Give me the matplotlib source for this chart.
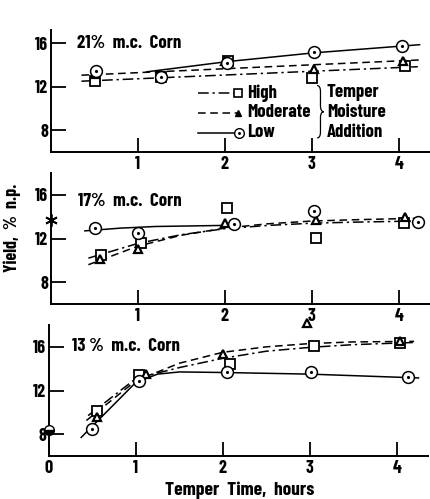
import numpy as np
import matplotlib
matplotlib.use("Agg")
import matplotlib.pyplot as plt
from matplotlib.path import Path
from matplotlib.patches import PathPatch

plt.rcParams['font.family'] = ['Barlow Condensed', 'DejaVu Sans']
plt.rcParams['font.stretch'] = 'condensed'
plt.rcParams['font.weight'] = 'bold'

# ---- 21% m.c. corn ----
h21_x = [0.51, 1.27, 2.04, 3.00, 4.07]
h21_y = [12.5, 12.85, 14.35, 12.8, 13.9]
m21_x = [0.51, 1.27, 2.00, 3.03, 4.05]
m21_y = [13.2, 13.05, 14.4, 13.65, 14.4]
l21_x = [0.52, 1.27, 2.02, 3.03, 4.04]
l21_y = [13.4, 12.9, 14.15, 15.15, 15.7]
h21_fit_x = [0.35, 4.22]
h21_fit_y = [12.5, 13.83]
m21_fit_x = [0.35, 4.24]
m21_fit_y = [13.05, 14.45]
l21_fit_x = [1.1, 2.03, 3.02, 4.24]
l21_fit_y = [13.36, 14.3, 15.1, 15.85]

# ---- 17% m.c. corn ----
h17_x = [0.58, 1.04, 2.03, 3.05, 4.06]
h17_y = [10.5, 11.55, 14.75, 12.05, 13.4]
m17_x = [0.56, 1.00, 2.00, 3.05, 4.07]
m17_y = [10.15, 11.0, 13.4, 13.7, 14.0]
l17_x = [0.51, 1.00, 2.10, 3.02, 4.22]
l17_y = [13.0, 12.5, 13.3, 14.5, 13.5]
h17_fit_x = [0.43, 1.0, 1.5, 2.0, 2.5, 3.0, 3.5, 4.2]
h17_fit_y = [10.2, 11.55, 12.35, 12.9, 13.2, 13.4, 13.5, 13.6]
m17_fit_x = [0.43, 1.0, 1.5, 2.0, 2.5, 3.0, 3.5, 4.2]
m17_fit_y = [9.6, 11.3, 12.3, 12.95, 13.35, 13.6, 13.72, 13.85]
l17_fit_x = [0.39, 0.8, 1.2, 1.6, 2.0]
l17_fit_y = [12.7, 12.95, 13.1, 13.15, 13.2]
untempered17 = (0.0, 13.7)

# ---- 13% m.c. corn ----
h13_x = [0.55, 1.03, 2.08, 3.05, 4.04]
h13_y = [10.1, 13.4, 14.4, 16.05, 16.35]
m13_x = [0.55, 1.12, 2.00, 2.97, 4.04]
m13_y = [9.55, 13.55, 15.3, 18.2, 16.5]
l13_x = [0.50, 1.03, 2.05, 3.01, 4.13]
l13_y = [8.45, 12.85, 13.65, 13.65, 13.2]
h13_fit_x = [0.45, 1.0, 1.5, 2.0, 2.5, 3.0, 3.5, 4.2]
h13_fit_y = [9.7, 13.1, 14.1, 14.95, 15.6, 15.95, 16.2, 16.4]
m13_fit_x = [0.43, 1.0, 1.5, 2.0, 2.5, 3.0, 3.5, 4.2]
m13_fit_y = [9.25, 12.9, 14.5, 15.5, 16.0, 16.3, 16.45, 16.5]
l13_fit_x = [0.37, 1.0, 1.25, 1.5, 2.0, 3.0, 4.25]
l13_fit_y = [7.7, 12.75, 13.5, 13.7, 13.65, 13.5, 13.15]
untempered13 = (0.0, 8.35)

legend_labels = ['High', 'Moderate', 'Low']
brace_labels = ['Temper', 'Moisture', 'Addition']

DASHED = (0, (5, 3))
DASHDOT = (0, (7, 2.5, 1.5, 2.5))
lw = 1.1
FS = 13
TFS = 13.5


def style_axes(ax, ytop, xticks):
    ax.set_xlim(0, 4.36)
    ax.set_ylim(6, ytop)
    for s in ('top', 'right'):
        ax.spines[s].set_visible(False)
    ax.spines['left'].set_linewidth(1.4)
    ax.spines['bottom'].set_linewidth(1.4)
    ax.set_yticks([8, 12, 16])
    ax.set_xticks(xticks)
    ax.tick_params(axis='y', direction='in', length=11, width=1.3, pad=2, labelsize=FS)
    ax.tick_params(axis='x', direction='in', length=10, width=1.3, pad=3, labelsize=FS)


def draw_points(ax, x, y, kind):
    if kind == 'high':
        ax.plot(x, y, 's', ms=6.5, mfc='white', mec='black', mew=1.3, clip_on=False, zorder=4)
    elif kind == 'mod':
        ax.plot(x, y, '^', ms=5.5, mfc='white', mec='black', mew=1.6, clip_on=False, zorder=4)
    else:
        ax.plot(x, y, 'o', ms=8.5, mfc='white', mec='black', mew=1.1, clip_on=False, zorder=4)
        ax.plot(x, y, '.', ms=2.5, color='black', clip_on=False, zorder=5)


fig = plt.figure(figsize=(4.31, 4.99), dpi=100)
W, H = 431.0, 499.0
ax1 = fig.add_axes([51 / W, 1 - 152 / H, 379 / W, 122 / H])
ax2 = fig.add_axes([51 / W, 1 - 304 / H, 379 / W, 131 / H])
ax3 = fig.add_axes([49 / W, 1 - 456 / H, 379 / W, 131 / H])

panels = [
    (ax1, 17.2, [1, 2, 3, 4], '21%  m.c.  Corn', (0.30, 16.0),
     (h21_x, h21_y, h21_fit_x, h21_fit_y), (m21_x, m21_y, m21_fit_x, m21_fit_y),
     (l21_x, l21_y, l21_fit_x, l21_fit_y)),
    (ax2, 18.0, [1, 2, 3, 4], '17%  m.c.  Corn', (0.31, 15.4),
     (h17_x, h17_y, h17_fit_x, h17_fit_y), (m17_x, m17_y, m17_fit_x, m17_fit_y),
     (l17_x, l17_y, l17_fit_x, l17_fit_y)),
    (ax3, 18.0, [0, 1, 2, 3, 4], '13 %  m.c.  Corn', (0.26, 16.0),
     (h13_x, h13_y, h13_fit_x, h13_fit_y), (m13_x, m13_y, m13_fit_x, m13_fit_y),
     (l13_x, l13_y, l13_fit_x, l13_fit_y)),
]

for ax, ytop, xt, title, tpos, hi, mo, lo in panels:
    style_axes(ax, ytop, xt)
    ax.plot(hi[2], hi[3], color='black', lw=lw, linestyle=DASHDOT)
    ax.plot(mo[2], mo[3], color='black', lw=lw, linestyle=DASHED)
    ax.plot(lo[2], lo[3], color='black', lw=lw, linestyle='-')
    draw_points(ax, hi[0], hi[1], 'high')
    draw_points(ax, mo[0], mo[1], 'mod')
    draw_points(ax, lo[0], lo[1], 'low')
    ax.text(tpos[0], tpos[1], title, fontsize=TFS, va='center', ha='left')

ax2.plot([untempered17[0]], [untempered17[1]], marker=(6, 2, 0), ms=9, mew=1.3,
         color='black', clip_on=False, zorder=5)
ax3.plot([untempered13[0]], [untempered13[1]], 'o', ms=7, fillstyle='bottom',
         mfc='black', mfcalt='white', mec='black', mew=1.0, clip_on=False, zorder=5)

# legend keys drawn in axes fraction: line then marker at right end
rows = [0.484, 0.32, 0.156]
styles = [DASHDOT, DASHED, '-']
tr = ax1.transAxes
for yy, ls, kind, lab in zip(rows, styles, ['high', 'mod', 'low'], legend_labels):
    ax1.plot([0.388, 0.49], [yy, yy], color='black', lw=lw, linestyle=ls, transform=tr)
    if kind == 'high':
        ax1.plot([0.493], [yy], 's', ms=5.5, mfc='white', mec='black', mew=1.2, transform=tr, zorder=5)
    elif kind == 'mod':
        ax1.plot([0.493], [yy], '^', ms=4.5, mfc='black', mec='black', transform=tr, zorder=5)
    else:
        ax1.plot([0.496], [yy], 'o', ms=7, mfc='white', mec='black', mew=1.0, transform=tr, zorder=5)
        ax1.plot([0.496], [yy], '.', ms=2.2, color='black', transform=tr, zorder=6)
    ax1.text(0.517, yy, lab, transform=tr, fontsize=TFS, va='center', ha='left')

# brace
x0, xm, xt = 0.702, 0.711, 0.720
yt, yb = 0.545, 0.115
ym = (yt + yb) / 2
verts = [(x0, yt), (xm, yt), (xm, yt - 0.05),
         (xm, ym + 0.05),
         (xm, ym), (xt, ym),
         (xm, ym), (xm, ym - 0.05),
         (xm, yb + 0.05),
         (xm, yb), (x0, yb)]
codes = [Path.MOVETO, Path.CURVE3, Path.CURVE3,
         Path.LINETO,
         Path.CURVE3, Path.CURVE3,
         Path.CURVE3, Path.CURVE3,
         Path.LINETO,
         Path.CURVE3, Path.CURVE3]
ax1.add_patch(PathPatch(Path(verts, codes), transform=tr, fill=False, lw=0.9,
                        edgecolor='black', clip_on=False))
for txt, yy in zip(brace_labels, rows):
    ax1.text(0.728, yy, txt, transform=tr, fontsize=TFS, va='center', ha='left')

fig.text(12 / W, 1 - 228 / H, 'Yield,  %  n.p.', rotation=90, ha='center', va='center', fontsize=13)
fig.text(240 / W, 1 - 490 / H, 'Temper  Time,  hours', ha='center', va='center', fontsize=14)

fig.savefig('out.png', dpi=100)
